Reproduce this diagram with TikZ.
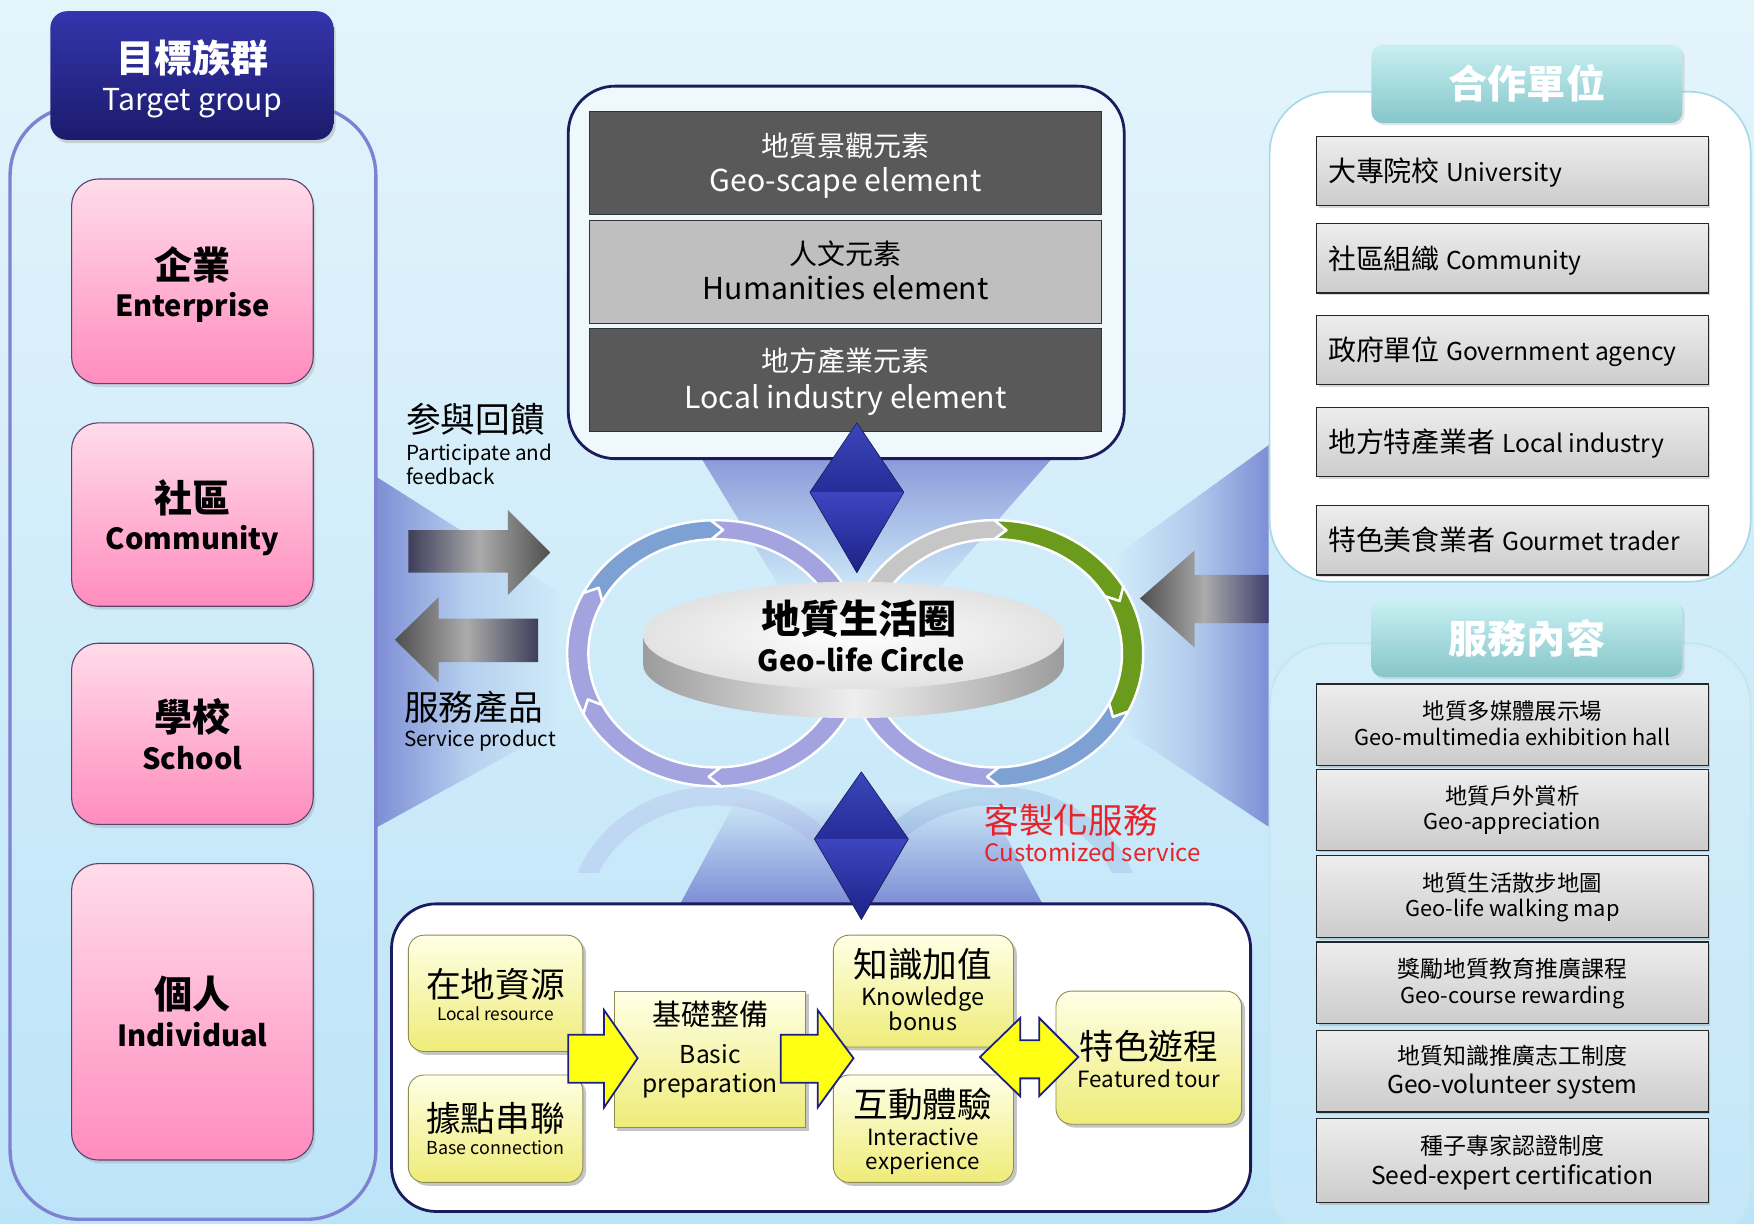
\documentclass[tikz,border=0pt]{standalone}
\usepackage{fontspec}
\setmainfont{Noto Sans CJK TC}
\usetikzlibrary{shadows}
\definecolor{bgtop}{HTML}{E4F4FB}
\definecolor{bgbot}{HTML}{BCE4F8}
\definecolor{bgmid}{HTML}{CFEBF9}
\definecolor{navy}{HTML}{1A1C5E}
\definecolor{panelline}{HTML}{7E82D2}
\definecolor{beam}{HTML}{7D8ED5}
\definecolor{pinktop}{HTML}{FFDCEA}
\definecolor{pinkbot}{HTML}{FF8CBE}
\definecolor{pinkedge}{HTML}{5C4468}
\definecolor{hdrtop}{HTML}{3535AE}
\definecolor{hdrbot}{HTML}{1B1B6C}
\definecolor{darkrow}{HTML}{595959}
\definecolor{lightrow}{HTML}{BFBFBF}
\definecolor{steel}{HTML}{7EA1D4}
\definecolor{lav}{HTML}{A3A3DF}
\definecolor{ringgray}{HTML}{C6C6C6}
\definecolor{ringgreen}{HTML}{6A9B1C}
\definecolor{custred}{HTML}{E8232A}
\definecolor{tabtop}{HTML}{C8F0F2}
\definecolor{tabbot}{HTML}{86C6CA}
\definecolor{ytop}{HTML}{FFFFE6}
\definecolor{ybot}{HTML}{EEEC78}
\definecolor{yedge}{HTML}{8E8C50}
\definecolor{yfill}{HTML}{FFFF14}
\definecolor{yline}{HTML}{1B2180}
\definecolor{dmdA}{HTML}{3C46BA}
\definecolor{dmdB}{HTML}{262C98}
\definecolor{dmdC}{HTML}{3D45C0}
\definecolor{dmdD}{HTML}{1C2286}
\definecolor{panelR}{HTML}{A9D9E6}
\definecolor{panelRb}{HTML}{C2E6F0}
\definecolor{arrdark}{HTML}{3E3E5A}
\definecolor{arrmid}{HTML}{ABABAB}
\definecolor{arrtip}{HTML}{4E4E4E}
\definecolor{arrnavy}{HTML}{40406E}
\definecolor{rimdark}{HTML}{9C9C9C}
\definecolor{rimlight}{HTML}{EFEFEF}
\definecolor{facegray}{HTML}{E2E2E2}
\newcommand\fsz[1]{\fontsize{#1}{#1}\selectfont}
\newcommand\tcj[6][]{\node[anchor=base,inner sep=0pt,font=\fsz{#5},#1] (#2) at (#3,{#4+0.38*#5}) {#6};}
\newcommand\tla[6][]{\node[anchor=base,inner sep=0pt,font=\fsz{#5},#1] (#2) at (#3,{#4+0.34*#5}) {#6};}
\newcommand\ROx{133}\newcommand\ROy{119}
\newcommand\RIx{114}\newcommand\RIy{102}
\newcommand\RMx{123.5}\newcommand\RMy{110.5}
\newcommand\chev{5}
\newcommand\ringseg[5]{%
 \filldraw[fill=#5,draw=white,line width=2.2pt,line join=round]
 ({#1+\ROx*cos(#3)},{#2+\ROy*sin(#3)})
 arc[start angle=#3,end angle=#4,x radius=\ROx,y radius=\ROy]
 -- ({#1+\RMx*cos(#4+\chev)},{#2+\RMy*sin(#4+\chev)})
 -- ({#1+\RIx*cos(#4)},{#2+\RIy*sin(#4)})
 arc[start angle=#4,end angle=#3,x radius=\RIx,y radius=\RIy]
 -- ({#1+\RMx*cos(#3+\chev)},{#2+\RMy*sin(#3+\chev)}) -- cycle;}
\begin{document}
\begin{tikzpicture}[x=1pt,y=-1pt,
 pinkbox/.style={draw=pinkedge,line width=1pt,rounded corners=24pt,top color=pinktop,bottom color=pinkbot,inner sep=0pt,drop shadow={opacity=.25,shadow xshift=2pt,shadow yshift=-3pt}},
 ybox/.style={draw=yedge,line width=0.8pt,top color=ytop,bottom color=ybot,inner sep=0pt,drop shadow={opacity=.45,shadow xshift=3pt,shadow yshift=-3pt}},
 graybox/.style={draw=black!85,line width=1.1pt,top color=gray!14,bottom color=gray!40,inner sep=0pt,drop shadow={opacity=.3,shadow xshift=2pt,shadow yshift=-2pt}},
 rowbox/.style={draw=black!80,line width=1pt,inner sep=0pt},
 tabbox/.style={rounded corners=10pt,top color=tabtop,bottom color=tabbot,inner sep=0pt,drop shadow={opacity=.2,shadow xshift=2pt,shadow yshift=-2pt}},
 yarrow/.style={fill=yfill,draw=yline,line width=1.6pt,line join=miter},
 dmdedge/.style={draw=navy,line width=0.6pt,line join=round}]
\useasboundingbox (0,0) rectangle (1568,1094);
\clip (0,0) rectangle (1568,1094);
% background
\shade[top color=bgtop,bottom color=bgbot] (0,0) rectangle (1568,1094);
% beams
\shade[left color=beam,right color=bgmid,middle color=bgmid!70!beam] (336,426) -- (500,530) -- (500,650) -- (336,740) -- cycle;
\shade[left color=bgmid,right color=beam,middle color=bgmid!65!beam] (1134,398) -- (1000,495) -- (1000,650) -- (1134,739) -- cycle;
\shade[top color=beam!90!white,bottom color=bgmid] (626,408) -- (942,408) -- (835,530) -- (700,530) -- cycle;
\shade[top color=bgmid,bottom color=beam] (608,808) -- (932,808) -- (880,712) -- (660,712) -- cycle;
% left panel
\draw[panelline,line width=3pt,rounded corners=62pt] (9,95) rectangle (336,1090);
\node[rounded corners=15pt,top color=hdrtop,bottom color=hdrbot,minimum width=253pt,minimum height=115pt,inner sep=0pt,drop shadow={opacity=.3,shadow xshift=2pt,shadow yshift=-3pt}] (tg) at (171.5,67.5) {};
\node[pinkbox,minimum width=216pt,minimum height=183pt] (ent) at (172,251.5) {};
\node[pinkbox,minimum width=216pt,minimum height=164pt] (com) at (172,460) {};
\node[pinkbox,minimum width=216pt,minimum height=162pt] (sch) at (172,656) {};
\node[pinkbox,minimum width=216pt,minimum height=265pt] (ind) at (172,904.5) {};
\tcj[white]{tgA}{172}{52}{34}{\bfseries 目標族群}
\tla[white]{tgB}{172}{90}{27}{Target group}
\tcj{entA}{172}{237}{34}{\bfseries 企業}
\tla{entB}{172}{274}{26}{\bfseries Enterprise}
\tcj{comA}{172}{445}{34}{\bfseries 社區}
\tla{comB}{172}{482}{26}{\bfseries Community}
\tcj{schA}{172}{641}{34}{\bfseries 學校}
\tla{schB}{172}{679}{26}{\bfseries School}
\tcj{indA}{172}{889}{34}{\bfseries 個人}
\tla{indB}{172}{927}{26}{\bfseries Individual}
% gray arrows (left)
\shade[left color=arrdark,right color=arrtip,middle color=arrmid] (365,474) -- (454,474) -- (454,456) -- (492,494) -- (454,532) -- (454,512) -- (365,512) -- cycle;
\shade[left color=arrtip,right color=arrdark,middle color=arrmid] (481,553) -- (392,553) -- (392,534) -- (353,572) -- (392,610) -- (392,592) -- (481,592) -- cycle;
\tcj[anchor=base west]{pfA}{363}{375}{31}{参與回饋}
\tla[anchor=base west]{pfB}{363}{405}{18.5}{Participate and}
\tla[anchor=base west]{pfC}{363}{427}{18.5}{feedback}
\tcj[anchor=base west]{spA}{361}{632}{31}{服務產品}
\tla[anchor=base west]{spB}{361}{661}{18.5}{Service product}
% top box
\node[draw=navy,line width=2.5pt,rounded corners=42pt,fill=bgtop!60!white,minimum width=497pt,minimum height=333pt,inner sep=0pt] (topbox) at (756.5,243.5) {};
\node[rowbox,fill=darkrow,minimum width=458pt,minimum height=92pt] (el1) at (756,146) {};
\node[rowbox,fill=lightrow,minimum width=458pt,minimum height=92pt] (el2) at (756,243) {};
\node[rowbox,fill=darkrow,minimum width=458pt,minimum height=92pt] (el3) at (756,340) {};
\tcj[white]{el1A}{756}{130}{25}{地質景觀元素}
\tla[white]{el1B}{756}{162}{27}{Geo-scape element}
\tcj{el2A}{756}{227}{25}{人文元素}
\tla{el2B}{756}{259}{27}{Humanities element}
\tcj[white]{el3A}{756}{323}{25}{地方產業元素}
\tla[white]{el3B}{756}{356}{27}{Local industry element}
% right gray arrow
\shade[left color=arrtip,right color=arrnavy,middle color=arrmid] (1134,514) -- (1068,514) -- (1068,492) -- (1019,535) -- (1068,579) -- (1068,557) -- (1134,557) -- cycle;
% right panels
\node[draw=panelR,line width=1.5pt,fill=white,rounded corners=55pt,minimum width=430pt,minimum height=438pt,inner sep=0pt] (coopP) at (1350,301) {};
\node[draw=panelRb,line width=1.5pt,fill=white,fill opacity=0.12,rounded corners=55pt,minimum width=430pt,minimum height=540pt,inner sep=0pt] (servP) at (1350,845) {};
\node[tabbox,minimum width=278pt,minimum height=70pt] (tab1) at (1365,75) {};
\node[tabbox,minimum width=278pt,minimum height=68pt] (tab2) at (1365,571) {};
\tcj[white]{tab1t}{1365}{75}{35}{\bfseries 合作單位}
\tcj[white]{tab2t}{1365}{571}{35}{\bfseries 服務內容}
\node[graybox,minimum width=350pt,minimum height=62pt] (c1) at (1352,153) {};
\node[graybox,minimum width=350pt,minimum height=62pt] (c2) at (1352,231) {};
\node[graybox,minimum width=350pt,minimum height=62pt] (c3) at (1352,313) {};
\node[graybox,minimum width=350pt,minimum height=62pt] (c4) at (1352,395) {};
\node[graybox,minimum width=350pt,minimum height=62pt] (c5) at (1352,483) {};
\tcj[anchor=base west]{c1t}{1187}{153}{25}{大專院校 {\fsz{22}University}}
\tcj[anchor=base west]{c2t}{1187}{231}{25}{社區組織 {\fsz{22}Community}}
\tcj[anchor=base west]{c3t}{1187}{313}{25}{政府單位 {\fsz{22}Government agency}}
\tcj[anchor=base west]{c4t}{1187}{395}{25}{地方特產業者 {\fsz{22}Local industry}}
\tcj[anchor=base west]{c5t}{1187}{483}{25}{特色美食業者 {\fsz{22}Gourmet trader}}
\node[graybox,minimum width=350pt,minimum height=73pt] (s1) at (1352,648) {};
\node[graybox,minimum width=350pt,minimum height=72pt] (s2) at (1352,724) {};
\node[graybox,minimum width=350pt,minimum height=73pt] (s3) at (1352,801.5) {};
\node[graybox,minimum width=350pt,minimum height=73pt] (s4) at (1352,878.5) {};
\node[graybox,minimum width=350pt,minimum height=73pt] (s5) at (1352,957.5) {};
\node[graybox,minimum width=350pt,minimum height=75pt] (s6) at (1352,1037.5) {};
\tcj{s1A}{1352}{636}{20}{地質多媒體展示場}
\tla{s1B}{1352}{660}{19.5}{Geo-multimedia exhibition hall}
\tcj{s2A}{1352}{712}{20}{地質戶外賞析}
\tla{s2B}{1352}{735}{19.5}{Geo-appreciation}
\tcj{s3A}{1352}{789}{20}{地質生活散步地圖}
\tla{s3B}{1352}{813}{19.5}{Geo-life walking map}
\tcj{s4A}{1352}{866}{20.5}{獎勵地質教育推廣課程}
\tla{s4B}{1352}{890}{19.5}{Geo-course rewarding}
\tcj{s5A}{1352}{944}{20.5}{地質知識推廣志工制度}
\tla{s5B}{1352}{970}{22}{Geo-volunteer system}
\tcj{s6A}{1352}{1024}{20.5}{種子專家認證制度}
\tla{s6B}{1352}{1051}{22}{Seed-expert certification}
% reflection
\begin{scope}
\clip (490,704) rectangle (1040,780);
\draw[lav,opacity=0.25,line width=17pt] (640,822) ellipse [x radius=123.5,y radius=110.5];
\draw[steel,opacity=0.25,line width=17pt] (889,822) ellipse [x radius=123.5,y radius=110.5];
\end{scope}
% rings
\ringseg{640}{584}{153}{207}{lav}
\ringseg{640}{584}{207}{268}{steel}
\ringseg{640}{584}{268}{360}{lav}
\ringseg{640}{584}{0}{88}{lav}
\ringseg{640}{584}{88}{153}{lav}
\ringseg{889}{584}{88}{180}{lav}
\ringseg{889}{584}{180}{270}{ringgray}
\ringseg{889}{584}{270}{330}{ringgreen}
\ringseg{889}{584}{330}{386}{ringgreen}
\ringseg{889}{584}{26}{88}{steel}
% disc
\shade[left color=rimdark,right color=rimdark,middle color=rimlight] (575,568) -- (575,594) arc[start angle=180,end angle=0,x radius=188,y radius=48] -- (951,568) arc[start angle=0,end angle=180,x radius=188,y radius=48] -- cycle;
\shade[inner color=white,outer color=facegray] (763,568) ellipse [x radius=188,y radius=48];
\tcj{geoA}{768}{553}{35}{\bfseries 地質生活圈}
\tla{geoB}{770}{591}{26}{\bfseries Geo-life Circle}
% top diamond
\shade[top color=dmdA,bottom color=dmdB] (766,378) -- (808,440) -- (724,440) -- cycle;
\shade[top color=dmdC,bottom color=dmdD] (724,440) -- (808,440) -- (766,512) -- cycle;
\draw[dmdedge] (766,378) -- (808,440) -- (766,512) -- (724,440) -- cycle;
% bottom box
\node[draw=navy,line width=2.5pt,rounded corners=40pt,fill=white,minimum width=768pt,minimum height=275pt,inner sep=0pt] (botbox) at (734,945.5) {};
% bottom diamond
\shade[top color=dmdA,bottom color=dmdB] (770,690) -- (812,750) -- (728,750) -- cycle;
\shade[top color=dmdC,bottom color=dmdD] (728,750) -- (812,750) -- (770,822) -- cycle;
\draw[dmdedge] (770,690) -- (812,750) -- (770,822) -- (728,750) -- cycle;
\tcj[anchor=base west,text=custred]{cusA}{880}{733}{31}{客製化服務}
\tla[anchor=base west,text=custred]{cusB}{880}{763}{21.5}{Customized service}
% yellow boxes
\node[ybox,rounded corners=14pt,minimum width=156pt,minimum height=104pt] (lr) at (443,888) {};
\node[ybox,rounded corners=14pt,minimum width=156pt,minimum height=96pt] (bc) at (443,1009) {};
\node[ybox,minimum width=171pt,minimum height=122pt] (bp) at (634.5,947) {};
\node[ybox,rounded corners=14pt,minimum width=161pt,minimum height=100pt] (kb) at (825.5,886) {};
\node[ybox,rounded corners=14pt,minimum width=161pt,minimum height=96pt] (ie) at (825.5,1009) {};
\node[ybox,rounded corners=14pt,minimum width=166pt,minimum height=119pt] (ft) at (1027,945.5) {};
\tcj{lrA}{443}{880}{31}{在地資源}
\tla{lrB}{443}{907}{15.5}{Local resource}
\tcj{bcA}{443}{1000}{31}{據點串聯}
\tla{bcB}{443}{1027}{16}{Base connection}
\tcj{bpA}{635}{907}{26}{基礎整備}
\tla{bpB}{635}{943}{22}{Basic}
\tla{bpC}{635}{969}{22}{preparation}
\tcj{kbA}{825}{862}{31}{知識加值}
\tla{kbB}{825}{892}{21}{Knowledge}
\tla{kbC}{825}{914}{21}{bonus}
\tcj{ieA}{825}{987}{31}{互動體驗}
\tla{ieB}{825}{1017}{20}{Interactive}
\tla{ieC}{825}{1039}{20}{experience}
\tcj{ftA}{1027}{935}{31}{特色遊程}
\tla{ftB}{1027}{965}{20}{Featured tour}
% yellow arrows
\filldraw[yarrow] (508,925) -- (540,925) -- (540,903) -- (570,946) -- (540,990) -- (540,968) -- (508,968) -- cycle;
\filldraw[yarrow] (698,925) -- (731,925) -- (731,903) -- (763,946) -- (731,990) -- (731,968) -- (698,968) -- cycle;
\filldraw[yarrow] (876,945) -- (912,910) -- (912,930) -- (929,930) -- (929,910) -- (964,945) -- (929,980) -- (929,964) -- (912,964) -- (912,980) -- cycle;
\end{tikzpicture}
\end{document}
